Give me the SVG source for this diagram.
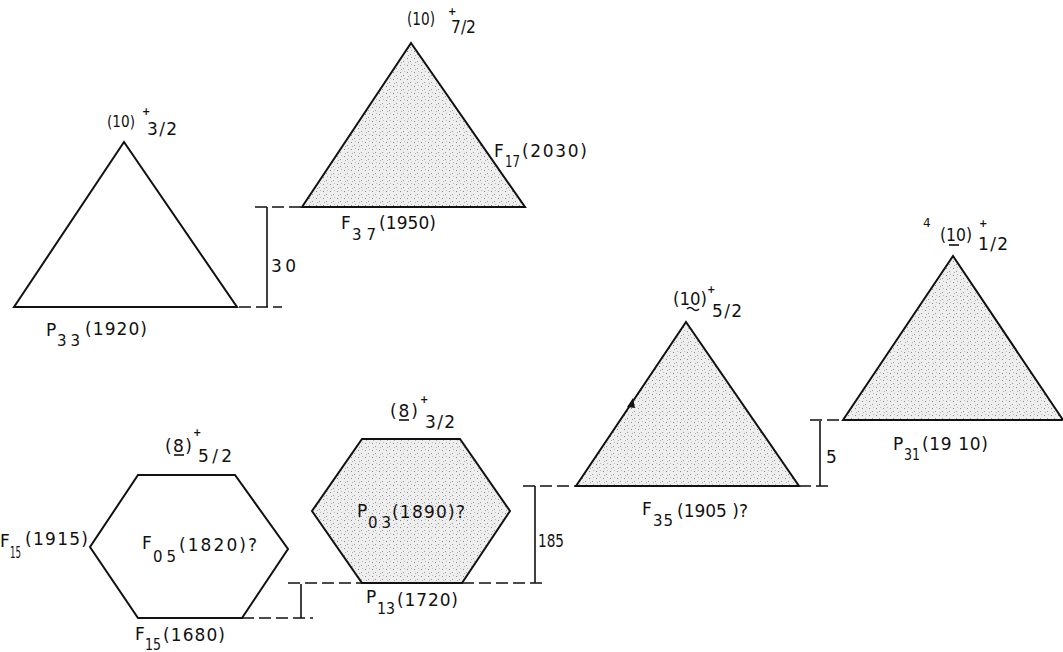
<svg xmlns="http://www.w3.org/2000/svg" width="1063" height="652" viewBox="0 0 1063 652">
<style>
.sh{fill:none;stroke:#111;stroke-width:2;stroke-linejoin:miter}
.shade{fill:url(#speck);stroke:#111;stroke-width:2}
.ln{stroke:#111;stroke-width:1.6;fill:none}
.dash{stroke:#111;stroke-width:1.6;fill:none;stroke-dasharray:12 5}
text{font-family:"DejaVu Sans","Liberation Sans",sans-serif;font-size:17px;fill:#111}
.sup{font-size:10px;font-weight:bold}
.sb{font-size:15px}
.sm{font-size:12px}
.nr{font-size:16px}
</style>
<defs>
<pattern id="speck" width="7" height="7" patternUnits="userSpaceOnUse">
<rect width="7" height="7" fill="#eeeeee"/>
<rect x="1" y="2" width="1" height="1" fill="#8a8a8a"/>
<rect x="4" y="5" width="1" height="1" fill="#9a9a9a"/>
<rect x="5" y="1" width="1" height="1" fill="#bcbcbc"/>
<rect x="2" y="6" width="1" height="1" fill="#b0b0b0"/>
</pattern>
</defs>
<rect width="1063" height="652" fill="#fff"/>

<g id="connectors">
<line class="dash" x1="239" y1="307" x2="282" y2="307"/>
<line class="dash" x1="255" y1="207" x2="302" y2="207"/>
<line class="ln" x1="267" y1="207" x2="267" y2="307"/>
<line class="dash" x1="523" y1="486" x2="576" y2="486"/>
<line class="dash" x1="288" y1="583" x2="362" y2="583"/>
<line class="dash" x1="462" y1="583" x2="543" y2="583"/>
<line class="ln" x1="535" y1="486" x2="535" y2="583"/>
<line class="dash" x1="242" y1="618" x2="313" y2="618"/>
<line class="ln" x1="301" y1="584" x2="301" y2="618"/>
<line class="dash" x1="799" y1="486" x2="832" y2="486"/>
<line class="dash" x1="810" y1="420" x2="843" y2="420"/>
<line class="ln" x1="820" y1="421" x2="820" y2="486"/>
<text x="271" y="272" textLength="25">30</text>
<text x="538" y="547" textLength="26" lengthAdjust="spacingAndGlyphs">185</text>
<text x="826" y="463">5</text>
</g>

<g id="tri-10-3-2">
<polygon class="sh" points="14,307 124,142 237,307"/>
<text><tspan class="nr" x="107" y="127" textLength="28" lengthAdjust="spacingAndGlyphs">(10)</tspan><tspan class="sup" x="142" y="115">+</tspan><tspan x="147" y="135" textLength="30">3/2</tspan></text>
<text><tspan x="46" y="336">P</tspan><tspan class="sb" x="57" y="346" textLength="23">33</tspan><tspan x="85" y="335" textLength="62">(1920)</tspan></text>
</g>

<g id="tri-10-7-2">
<polygon class="shade" points="302,207 411,43 525,207"/>
<text><tspan x="407" y="25" textLength="28" lengthAdjust="spacingAndGlyphs">(10)</tspan><tspan class="sup" x="448" y="15">+</tspan><tspan x="451" y="33" textLength="25" lengthAdjust="spacingAndGlyphs">7/2</tspan></text>
<text><tspan x="494" y="157">F</tspan><tspan class="sb" x="505" y="167" textLength="15" lengthAdjust="spacingAndGlyphs">17</tspan><tspan x="522" y="157" textLength="65">(2030)</tspan></text>
<text><tspan x="341" y="229">F</tspan><tspan class="sb" x="352" y="240" textLength="24">37</tspan><tspan x="379" y="229" textLength="57">(1950)</tspan></text>
</g>

<g id="tri-10-5-2">
<polygon class="shade" points="576,486 686,322 799,486"/>
<path d="M627,407 L633,398 L635,408 Z" fill="#111"/>
<text><tspan x="673" y="305" textLength="34" lengthAdjust="spacingAndGlyphs">(10)</tspan><tspan class="sup" x="707" y="293">+</tspan><tspan x="712" y="317" textLength="30">5/2</tspan></text>
<path class="ln" d="M687,309 q3,-3 6,0 t6,0"/>
<text><tspan x="642" y="515">F</tspan><tspan class="sb" x="653" y="526" textLength="20">35</tspan><tspan x="677" y="517" textLength="71">(1905 )?</tspan></text>
</g>

<g id="tri-10-1-2">
<polygon class="shade" points="843,420 953,256 1063,420"/>
<text><tspan class="sm" x="923" y="227">4</tspan><tspan x="940" y="241" textLength="32" lengthAdjust="spacingAndGlyphs">(10)</tspan><tspan class="sup" x="979" y="227">+</tspan><tspan x="978" y="250" textLength="30">1/2</tspan></text>
<line class="ln" x1="949" y1="245" x2="959" y2="245"/>
<text><tspan x="893" y="450">P</tspan><tspan class="sb" x="904" y="460" textLength="16" lengthAdjust="spacingAndGlyphs">31</tspan><tspan x="922" y="450" textLength="66">(19 10)</tspan></text>
</g>

<g id="hex-8-5-2">
<polygon class="sh" points="138,475 235,475 288,549 242,618 138,618 90,547"/>
<text><tspan x="165" y="452" textLength="27">(8)</tspan><tspan class="sup" x="193" y="436">+</tspan><tspan x="198" y="462" textLength="34">5/2</tspan></text>
<line class="ln" x1="174" y1="455" x2="184" y2="455"/>
<text><tspan x="142" y="549">F</tspan><tspan class="sb" x="153" y="562" textLength="23">05</tspan><tspan x="179" y="551" textLength="78">(1820)?</tspan></text>
<text><tspan x="0" y="547">F</tspan><tspan class="sb" x="10" y="558" textLength="11" lengthAdjust="spacingAndGlyphs">15</tspan><tspan x="25" y="545" textLength="63">(1915)</tspan></text>
<text><tspan x="135" y="640">F</tspan><tspan class="sb" x="145" y="650" textLength="16" lengthAdjust="spacingAndGlyphs">15</tspan><tspan x="163" y="641" textLength="62">(1680)</tspan></text>
</g>

<g id="hex-8-3-2">
<polygon class="shade" points="362,439 460,439 510,511 462,583 362,583 312,511"/>
<text><tspan x="390" y="417" textLength="28">(8)</tspan><tspan class="sup" x="420" y="403">+</tspan><tspan x="425" y="428" textLength="30">3/2</tspan></text>
<line class="ln" x1="399" y1="420" x2="409" y2="420"/>
<text><tspan x="357" y="517">P</tspan><tspan class="sb" x="368" y="528" textLength="23">03</tspan><tspan x="392" y="518" textLength="73">(1890)?</tspan></text>
<text><tspan x="366" y="603">P</tspan><tspan class="sb" x="377" y="614" textLength="18" lengthAdjust="spacingAndGlyphs">13</tspan><tspan x="397" y="606" textLength="61">(1720)</tspan></text>
</g>
</svg>
